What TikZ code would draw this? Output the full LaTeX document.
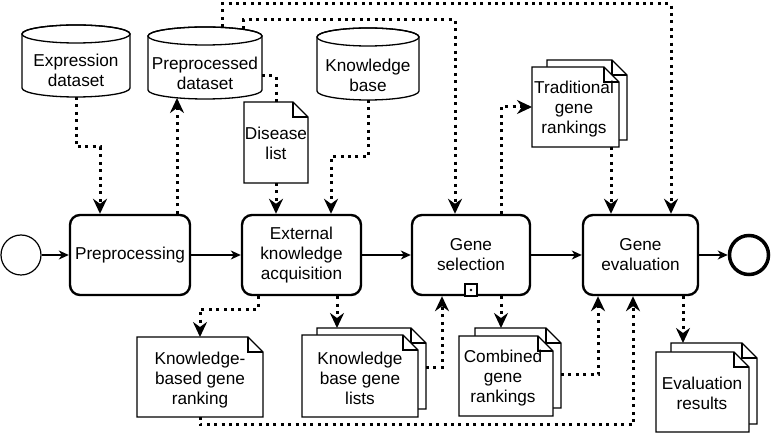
\documentclass[tikz,border=0pt]{standalone}
\usepackage{fontspec}
\setmainfont{Liberation Sans}
\usetikzlibrary{arrows.meta,calc}
\tikzset{
  box/.style={inner sep=0pt,outer sep=0pt},
  txt/.style={align=center,inner sep=0pt},
  proc/.style={draw,rounded corners=10pt,line width=2.4pt,align=center,inner sep=0pt},
  docline/.style={draw,fill=white,line width=1.3pt,line join=miter},
  cylline/.style={draw,fill=white,line width=1.3pt},
  flow/.style={line width=1.2pt,-{Stealth[length=10pt,width=9pt,inset=3pt]}},
  dotar/.style={line width=3pt,dash pattern=on 3pt off 4.4pt,-{Stealth[length=15pt,width=14pt,inset=5pt]}},
  dotln/.style={line width=3pt,dash pattern=on 3pt off 4.4pt},
}
% note outline: x0 y0 x1 y1
\newcommand\drawnote[4]{%
  \draw[docline] (#1,#2) -- ({#3-15},#2) -- (#3,{#2+15}) -- (#3,#4) -- (#1,#4) -- cycle;
  \draw[line width=1.3pt,line join=miter] ({#3-15},#2) -- ({#3-15},{#2+15}) -- (#3,{#2+15});}
% cylinder outline: x0 y0 x1 y1
\newcommand\drawcyl[4]{%
  \draw[cylline] (#1,{#2+9}) -- (#1,{#4-9}) arc[start angle=180,end angle=360,x radius={(#3-#1)/2*1pt},y radius=9pt] -- (#3,{#2+9}) arc[start angle=0,end angle=180,x radius={(#3-#1)/2*1pt},y radius=9pt] -- cycle;
  \draw[line width=1.3pt] ({(#1+#3)/2},{#2+9}) ellipse[x radius={(#3-#1)/2*1pt},y radius=9pt];}
% invisible bounding node: name x0 y0 x1 y1
\newcommand\bnode[5]{\node[box,minimum width={#4-#2},minimum height={#5-#3}] (#1) at ({(#2+#4)/2},{(#3+#5)/2}) {};}
\begin{document}
\begin{tikzpicture}[x=1pt,y=-1pt,font=\fontsize{17.2}{20}\selectfont]
\useasboundingbox (0,0) rectangle (772,435);

% events
\node[draw,circle,minimum size=40,line width=1.2pt,inner sep=0pt] (st) at (21,255) {};
\node[draw,circle,minimum size=39,line width=3.5pt,inner sep=0pt] (en) at (749,255) {};

% processes
\node[proc,minimum width=120,minimum height=80] (pre) at (130,255) {Preprocessing};
\node[proc,minimum width=119,minimum height=80] (eka) at (301.5,255) {External\\knowledge\\acquisition};
\node[proc,minimum width=118,minimum height=80] (gs) at (471,255) {Gene\\selection};
\node[proc,minimum width=115,minimum height=80] (ge) at (640.5,255) {Gene\\evaluation};
\node[draw,fill=white,line width=1.2pt,minimum size=12,inner sep=0pt] (gsm) at (471,290) {};
\fill (gsm.center) circle[radius=1.4pt];

% data stores
\drawcyl{22}{25}{130}{97}
\bnode{exd}{22}{25}{130}{97}
\node[txt] (exd-t) at (76,70) {Expression\\dataset};
\drawcyl{148}{27}{262}{99}
\bnode{ppd}{148}{27}{262}{99}
\node[txt] (ppd-t) at (205,73) {Preprocessed\\dataset};
\drawcyl{317}{28}{419}{100}
\bnode{kb}{317}{28}{419}{100}
\node[txt] (kb-t) at (368,75) {Knowledge\\base};

% documents
\drawnote{244}{102}{308}{183}
\bnode{dl}{244}{102}{308}{183}
\node[txt] (dl-t) at (276,143) {Disease\\list};

\drawnote{547}{60}{627}{140}
\drawnote{532}{67}{619}{147}
\bnode{tgr}{532}{60}{627}{147}
\node[txt] (tgr-t) at (574,109) {Traditional\\gene\\rankings};

\drawnote{137}{337}{263}{417}
\bnode{kbgr}{137}{337}{263}{417}
\node[txt] (kbgr-t) at (200,380) {Knowledge-\\based gene\\ranking};

\drawnote{317}{328}{426}{409}
\drawnote{302}{335}{418}{417}
\bnode{kbgl}{302}{328}{426}{417}
\node[txt] (kbgl-t) at (360,378) {Knowledge\\base gene\\lists};

\drawnote{475}{328}{561}{408}
\drawnote{459}{336}{553}{416}
\bnode{cgr}{459}{328}{561}{416}
\node[txt] (cgr-t) at (503,378) {Combined\\gene\\rankings};

\drawnote{671}{343}{757}{424}
\drawnote{656}{352}{749}{432}
\bnode{er}{656}{343}{757}{432}
\node[txt] (er-t) at (702,393) {Evaluation\\results};

% sequence flow
\draw[flow] (st) -- (pre);
\draw[flow] (pre) -- (eka);
\draw[flow] (eka) -- (gs);
\draw[flow] (gs) -- (ge);
\draw[flow] (ge) -- (en);

% data associations
\draw[dotar] (exd.south) -- ++(0,50) -| ($(pre.north)+(-30,0)$);
\draw[dotar] ($(pre.north)+(47,0)$) -- ($(ppd.south)+(-28,-1)$);
\draw[dotln] ($(ppd.east)+(0,13)$) -- ++(14,0) -| (dl.north);
\draw[dotar] (dl.south) -- (dl.south |- eka.north);
\draw[dotar] (kb.south) -- ++(0,57) -| ($(eka.north)+(29.5,0)$);
\draw[dotar] ($(ppd.north)+(17,0)$) -- ++(0,-23) -| ($(ge.north)+(30.5,0)$);
\draw[dotar] ($(ppd.north)+(38,2)$) -- ++(0,-9) -| ($(gs.north)+(-16,0)$);
\draw[dotar] ($(gs.north)+(30,0)$) |- ($(tgr.west)+(0,3.5)$);
\draw[dotar] ($(tgr.south)+(31.5,0)$) -- ($(ge.north)+(-29.5,0)$);
\draw[dotar] ($(eka.south)+(-43.5,0)$) -- ++(0,13) -| (kbgr.north);
\draw[dotar] ($(eka.south)+(35.5,0)$) -- ($(kbgl.north)+(-27,0)$);
\draw[dotar] ($(kbgl.east)+(0,-4.5)$) -| ($(gs.south)+(-29,0)$);
\draw[dotar] ($(gs.south)+(30,0)$) -- ($(cgr.north)+(-9,0)$);
\draw[dotar] ($(cgr.east)+(0,3)$) -| ($(ge.south)+(-42.5,0)$);
\draw[dotar] (kbgr.south) -- ++(0,8) -| ($(ge.south)+(-7.5,0)$);
\draw[dotar] ($(ge.south)+(42.5,0)$) -- ($(er.north)+(-23.5,0)$);
\end{tikzpicture}
\end{document}
